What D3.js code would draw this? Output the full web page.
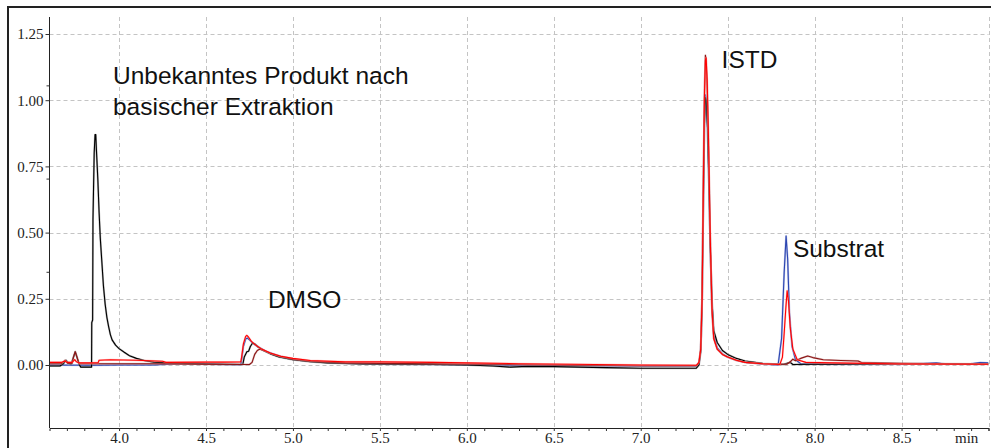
<!DOCTYPE html>
<html>
<head>
<meta charset="utf-8">
<script src="https://cdn.jsdelivr.net/npm/d3@7/dist/d3.min.js"></script>
<style>
  html, body { margin: 0; padding: 0; background: #fff; }
  svg { display: block; }
</style>
</head>
<body>
<svg id="chart" width="991" height="448"></svg>
<script>
// ---- Data (retention time in min, absorbance) ----
const xTicks = [4.0, 4.5, 5.0, 5.5, 6.0, 6.5, 7.0, 7.5, 8.0, 8.5];
const xGrid = [4.0, 4.5, 5.0, 5.5, 6.0, 6.5, 7.0, 7.5, 8.0, 8.5, 9.0];
const yTicks = [0.00, 0.25, 0.50, 0.75, 1.00, 1.25];
const yMinorTicks = [0.352, 0.704, 1.056];
const xUnit = "min";

const blackTrace = [
  [3.60,-0.004],[3.66,-0.004],[3.68,0.005],[3.695,0.018],[3.71,0.006],[3.725,0.004],[3.738,0.03],[3.748,0.05],[3.758,0.03],[3.77,0.003],[3.78,-0.008],
  [3.842,-0.008],[3.843,0.16],[3.848,0.17],[3.850,0.55],[3.857,0.80],[3.862,0.87],[3.866,0.87],[3.870,0.81],[3.878,0.70],[3.885,0.58],[3.892,0.48],
  [3.90,0.40],[3.91,0.30],[3.92,0.23],[3.93,0.18],[3.94,0.145],[3.95,0.115],[3.96,0.095],[3.98,0.075],[4.0,0.062],[4.03,0.048],[4.06,0.035],[4.1,0.025],
  [4.15,0.016],[4.2,0.011],[4.3,0.007],[4.5,0.004],[4.7,0.002],[4.712,0.003],[4.72,0.03],[4.735,0.05],[4.745,0.052],[4.755,0.07],[4.768,0.083],[4.78,0.08],
  [4.8,0.068],[4.83,0.055],[4.87,0.042],[4.92,0.03],[5.0,0.02],[5.1,0.012],[5.2,0.008],[5.4,0.004],[5.8,0.002],[6.0,0.0],[6.15,-0.004],[6.25,-0.008],
  [6.35,-0.005],[6.5,-0.006],[6.8,-0.01],[7.0,-0.012],[7.32,-0.012],[7.335,0.0],[7.345,0.05],[7.352,0.2],[7.36,0.6],[7.366,0.9],[7.372,1.01],[7.377,1.0],
  [7.384,0.9],[7.392,0.7],[7.40,0.45],[7.41,0.24],[7.42,0.13],[7.44,0.085],[7.47,0.055],[7.5,0.04],[7.55,0.025],[7.6,0.015],[7.7,0.006],[7.82,0.002],
  [7.85,0.008],[7.86,0.01],[7.875,0.002],[8.0,0.003],[8.5,0.004],[9.0,0.004]
];

const redTrace = [
  [3.60,0.01],[3.67,0.01],[3.69,0.015],[3.70,0.01],[3.73,0.01],[3.745,0.02],[3.755,0.012],[3.77,0.008],[3.84,0.008],[3.88,0.009],[3.885,0.018],
  [3.95,0.02],[4.1,0.018],[4.25,0.014],[4.27,0.01],[4.5,0.011],[4.6,0.011],[4.70,0.012],[4.705,0.03],[4.715,0.08],[4.728,0.108],[4.735,0.112],
  [4.745,0.105],[4.76,0.09],[4.78,0.078],[4.82,0.06],[4.87,0.045],[4.93,0.033],[5.0,0.025],[5.1,0.017],[5.3,0.012],[5.5,0.012],[5.8,0.01],[6.0,0.008],
  [6.3,0.005],[6.6,0.003],[7.0,0.0],[7.32,-0.001],[7.335,0.01],[7.345,0.06],[7.353,0.25],[7.36,0.65],[7.366,1.0],[7.372,1.15],[7.376,1.16],[7.382,1.08],
  [7.39,0.85],[7.40,0.48],[7.41,0.21],[7.42,0.1],[7.44,0.06],[7.47,0.04],[7.5,0.03],[7.55,0.018],[7.6,0.01],[7.7,0.005],[7.80,0.002],[7.815,0.03],
  [7.825,0.12],[7.835,0.22],[7.842,0.28],[7.85,0.24],[7.86,0.14],[7.875,0.06],[7.9,0.02],[7.95,0.01],[8.1,0.008],[8.3,0.006],[8.5,0.004],[9.0,0.003]
];

const blueTrace = [
  [3.60,0.0],[3.84,-0.001],[4.0,0.0],[4.2,0.0],[4.3,0.004],[4.45,0.006],[4.6,0.002],[4.70,0.001],[4.705,0.02],[4.715,0.07],[4.728,0.098],[4.738,0.102],
  [4.75,0.095],[4.77,0.082],[4.8,0.068],[4.85,0.05],[4.92,0.034],[5.0,0.022],[5.1,0.014],[5.3,0.007],[5.5,0.004],[6.0,0.001],[6.5,-0.002],[7.0,-0.004],
  [7.32,-0.004],[7.335,0.005],[7.345,0.055],[7.352,0.22],[7.36,0.62],[7.366,0.93],[7.372,1.02],[7.378,1.0],[7.385,0.88],[7.393,0.66],[7.40,0.44],
  [7.41,0.22],[7.42,0.11],[7.44,0.065],[7.47,0.042],[7.5,0.03],[7.55,0.018],[7.6,0.01],[7.7,0.004],[7.79,0.0],[7.81,0.1],[7.825,0.35],[7.836,0.487],
  [7.845,0.40],[7.855,0.2],[7.87,0.07],[7.89,0.02],[7.92,0.005],[8.1,0.003],[8.5,0.003],[8.6,0.005],[8.7,0.008],[8.75,0.004],[8.9,0.005],[8.95,0.009],[9.0,0.008]
];

const darkRedTrace = [
  [3.60,0.005],[3.67,0.005],[3.69,0.018],[3.705,0.006],[3.73,0.006],[3.738,0.03],[3.748,0.05],[3.758,0.03],[3.77,0.005],[3.84,0.005],[3.9,0.005],
  [4.2,0.005],[4.5,0.003],[4.75,0.002],[4.765,0.01],[4.78,0.04],[4.795,0.055],[4.81,0.06],[4.83,0.055],[4.87,0.044],[4.93,0.032],[5.0,0.022],[5.1,0.014],
  [5.3,0.008],[5.5,0.006],[6.0,0.004],[6.5,0.0],[7.0,-0.003],[7.32,-0.003],[7.335,0.01],[7.345,0.06],[7.353,0.26],[7.36,0.7],[7.367,1.05],[7.372,1.17],
  [7.376,1.15],[7.382,1.05],[7.39,0.82],[7.40,0.46],[7.41,0.2],[7.42,0.1],[7.44,0.06],[7.47,0.04],[7.5,0.03],[7.55,0.018],[7.6,0.01],[7.7,0.005],
  [7.84,0.003],[7.86,0.012],[7.875,0.022],[7.89,0.016],[7.92,0.025],[7.96,0.034],[7.99,0.028],[8.05,0.02],[8.15,0.017],[8.25,0.015],[8.27,0.009],
  [8.5,0.006],[9.0,0.004]
];

const annotations = [
  { lines: ["Unbekanntes Produkt nach", "basischer Extraktion"], t: 3.965, v: 1.06 },
  { lines: ["DMSO"], t: 4.856, v: 0.215 },
  { lines: ["ISTD"], t: 7.465, v: 1.12 },
  { lines: ["Substrat"], t: 7.875, v: 0.408 }
];

// ---- Drawing ----
const svg = d3.select("#chart");
const x = d3.scaleLinear().domain([3.6, 9.0]).range([49.5, 988.5]);
const y = d3.scaleLinear().domain([-0.2379, 1.3142]).range([428, 17]);

// outer frame
svg.append("rect").attr("x", 8).attr("y", 7).attr("width", 1000).attr("height", 460)
  .attr("fill", "none").attr("stroke", "#222").attr("stroke-width", 2);

// gridlines
const grid = svg.append("g").attr("stroke", "#c4c4c4").attr("stroke-dasharray", "4,3").attr("stroke-width", 1);
grid.selectAll("line.h").data(yTicks).join("line").attr("class", "h")
  .attr("x1", x(3.6)).attr("x2", x(9.0))
  .attr("y1", d => Math.round(y(d)) + 0.5).attr("y2", d => Math.round(y(d)) + 0.5);
grid.selectAll("line.v").data(xGrid).join("line").attr("class", "v")
  .attr("x1", d => Math.round(x(d)) + 0.5).attr("x2", d => Math.round(x(d)) + 0.5)
  .attr("y1", y(1.3142)).attr("y2", y(-0.2379));

// traces
const defs = svg.append("defs");
defs.append("clipPath").attr("id", "plotclip").append("rect")
  .attr("x", x(3.6)).attr("y", y(1.3142)).attr("width", x(9.0) - x(3.6)).attr("height", y(-0.2379) - y(1.3142));

const line = d3.line().x(d => x(d[0])).y(d => y(d[1]));
const traces = svg.append("g").attr("clip-path", "url(#plotclip)").attr("fill", "none").attr("stroke-linejoin", "round");
const seriesList = [
  { data: blueTrace, color: "#2b45b0", halo: "#8c9ad8" },
  { data: blackTrace, color: "#000000", halo: "#8a8a8a" },
  { data: darkRedTrace, color: "#8b1515", halo: "#c99a9a" },
  { data: redTrace, color: "#ff0000", halo: "#ff9a9a" }
];
seriesList.forEach(s => {
  traces.append("path").datum(s.data).attr("d", line)
    .attr("stroke", s.halo).attr("stroke-width", 2).attr("stroke-opacity", 0.6);
  traces.append("path").datum(s.data).attr("d", line)
    .attr("stroke", s.color).attr("stroke-width", 1.1);
});

// axes
const serif = "'Liberation Serif', 'DejaVu Serif', serif";
const axX = d3.axisBottom(x).tickValues(d3.range(3.7, 9.01, 0.1)).tickSize(3).tickFormat("");
svg.append("g").attr("transform", "translate(0,428)").call(axX)
  .call(g => g.select(".domain").attr("stroke", "#222"))
  .call(g => g.selectAll(".tick line").attr("stroke", "#333"));
svg.append("g").attr("transform", "translate(0,428)")
  .call(d3.axisBottom(x).tickValues(xTicks).tickSize(0).tickFormat(d3.format(".1f")))
  .call(g => g.select(".domain").remove())
  .call(g => g.selectAll("text").attr("dy", "0").attr("y", 15)
    .style("font-family", serif).style("font-size", "15px").attr("fill", "#222"));
svg.append("text").attr("x", 955).attr("y", 443).text(xUnit)
  .style("font-family", serif).style("font-size", "15px").attr("fill", "#222");

svg.append("g").attr("transform", "translate(49.5,0)")
  .call(d3.axisLeft(y).tickValues(yTicks).tickSize(4).tickPadding(2).tickFormat(d3.format(".2f")))
  .call(g => g.select(".domain").attr("stroke", "#222").attr("d", `M0,${y(1.3142)}V${y(-0.2379)}`))
  .call(g => g.selectAll(".tick line").attr("stroke", "#333"))
  .call(g => g.selectAll("text").style("font-family", serif)
    .style("font-size", "15px").attr("fill", "#222"));
svg.append("g").attr("transform", "translate(49.5,0)")
  .call(d3.axisLeft(y).tickValues(yMinorTicks).tickSize(3).tickFormat(""))
  .call(g => g.select(".domain").remove())
  .call(g => g.selectAll(".tick line").attr("stroke", "#333"));

// annotations
annotations.forEach(a => {
  const t = svg.append("text").attr("x", x(a.t)).attr("y", y(a.v))
    .attr("font-family", "'Liberation Sans', Arial, sans-serif").attr("font-size", 24.5).attr("fill", "#111");
  a.lines.forEach((l, i) => t.append("tspan").attr("x", x(a.t)).attr("dy", i === 0 ? 0 : 31).text(l));
});
</script>
</body>
</html>
